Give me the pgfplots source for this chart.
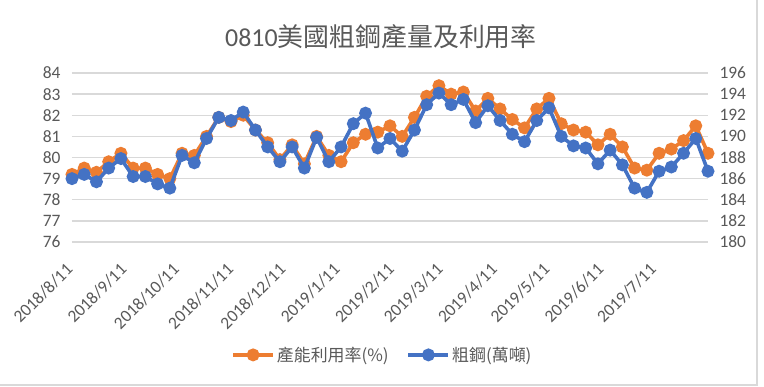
\documentclass[border=0pt]{standalone}
\usepackage{pgfplots}
\pgfplotsset{compat=1.18}
\usepackage{pgfplotstable}
\usepackage{fontspec}
\setmainfont{Carlito}
\newfontfamily\cjk{Noto Sans CJK TC}
\definecolor{txtgray}{HTML}{595959}
\definecolor{grd}{HTML}{D9D9D9}
\definecolor{xlorange}{HTML}{ED7D31}
\definecolor{xlblue}{HTML}{4472C4}

\pgfplotstableread{
d u s
0 79.2 186.0
7 79.5 186.4
14 79.3 185.7
21 79.8 187.0
28 80.2 187.9
35 79.5 186.2
42 79.5 186.2
49 79.2 185.5
56 79.0 185.1
63 80.2 188.2
70 80.1 187.5
77 81.0 189.8
84 81.9 191.8
91 81.7 191.5
98 82.0 192.3
105 81.3 190.6
112 80.7 189.0
119 79.9 187.6
126 80.6 189.0
133 79.7 187.0
140 81.0 189.9
147 80.1 187.6
154 79.8 189.0
161 80.7 191.2
168 81.1 192.2
175 81.2 188.9
182 81.5 189.8
189 81.0 188.6
196 81.9 190.6
203 82.9 193.0
210 83.4 194.1
217 83.0 193.0
224 83.1 193.5
231 82.2 191.3
238 82.8 192.9
245 82.3 191.5
252 81.8 190.2
259 81.4 189.5
266 82.3 191.5
273 82.8 192.7
280 81.6 190.0
287 81.3 189.1
294 81.2 188.9
301 80.6 187.4
308 81.1 188.7
315 80.5 187.3
322 79.5 185.1
329 79.4 184.7
336 80.2 186.7
343 80.4 187.1
350 80.8 188.4
357 81.5 189.8
364 80.2 186.7
}\data

\pgfplotsset{
  base/.style={
    scale only axis, width=636bp, height=169bp,
    at={(0,0)}, anchor=south west,
    xmin=0, xmax=364,
    axis line style={draw=none},
    major tick length=0pt,
    clip=false,
    /pgf/number format/assume math mode=true,
    tick label style={font=\fontsize{17.5}{18}\selectfont, color=txtgray},
  },
  ser/.style={line width=3.6bp, mark=*, mark size=4.6bp, mark options={solid}},
}

\begin{document}
\begin{tikzpicture}
\path[use as bounding box, fill=white] (-72bp,-145bp) rectangle (692bp,242bp);
\draw[grd, line width=1.2bp] (-72bp,-143bp) -- (685bp,-143bp) -- (685bp,242bp);

\begin{axis}[base,
  ymin=76, ymax=84, ytick={76,77,...,84},
  ymajorgrids, grid style={grd, line width=1.3bp},
  yticklabel style={xshift=-8bp},
  xtick={0,31,61,92,122,153,184,212,243,273,304,334},
  xticklabels={2018/8/11,2018/9/11,2018/10/11,2018/11/11,2018/12/11,2019/1/11,2019/2/11,2019/3/11,2019/4/11,2019/5/11,2019/6/11,2019/7/11},
  xticklabel style={yshift=-22bp, xshift=0bp, rotate=45, anchor=east},
]
\addplot[ser, color=xlorange] table[x=d, y=u] {\data};
\end{axis}

\begin{axis}[base,
  ymin=180, ymax=196, ytick={180,182,...,196},
  axis y line*=right,
  yticklabel style={xshift=8bp},
  xtick=\empty,
  legend columns=2,
  legend style={at={(0.488,-0.668)}, anchor=center, draw=none, fill=none,
    font=\cjk\fontsize{17}{18}\selectfont, text=txtgray,
    /tikz/every even column/.append style={column sep=16bp}},
  legend image code/.code={\draw[#1, mark repeat=2, mark phase=2] plot coordinates {(0bp,0bp) (20bp,0bp) (40bp,0bp)};},
]
\addlegendimage{ser, color=xlorange}
\addlegendentry{產能利用率(\%)}
\addplot[ser, color=xlblue] table[x=d, y=s] {\data};
\addlegendentry{粗鋼(萬噸)}
\end{axis}

\node[color=txtgray, font=\fontsize{26}{28}\selectfont] at (309bp,205bp) {0810{\cjk 美國粗鋼產量及利用率}};
\end{tikzpicture}
\end{document}
